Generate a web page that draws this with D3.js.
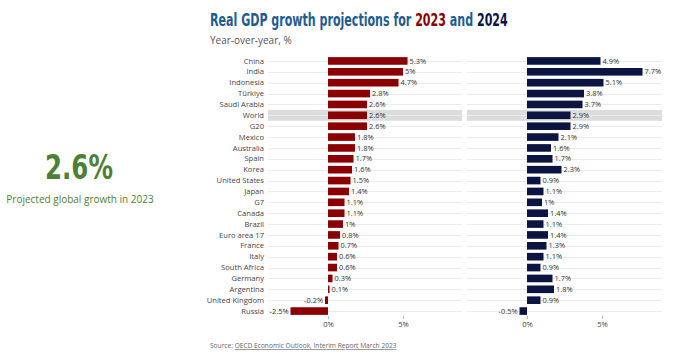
<!DOCTYPE html>
<html><head><meta charset="utf-8">
<script src="https://cdn.jsdelivr.net/npm/d3@7"></script>
<style>
body{margin:0;background:#fff;}
svg{display:block;font-family:"Open Sans",sans-serif;}
</style></head>
<body><svg id="c" width="700" height="356"></svg>
<script>
const categories = ["China","India","Indonesia","Türkiye","Saudi Arabia","World","G20","Mexico","Australia","Spain","Korea","United States","Japan","G7","Canada","Brazil","Euro area 17","France","Italy","South Africa","Germany","Argentina","United Kingdom","Russia"];
const growth2023 = [5.3,5,4.7,2.8,2.6,2.6,2.6,1.8,1.8,1.7,1.6,1.5,1.4,1.1,1.1,1,0.8,0.7,0.6,0.6,0.3,0.1,-0.2,-2.5];
const growth2024 = [4.9,7.7,5.1,3.8,3.7,2.9,2.9,2.1,1.6,1.7,2.3,0.9,1.1,1,1.4,1.1,1.4,1.3,1.1,0.9,1.7,1.8,0.9,-0.5];
const tickValues = [0,5];
const highlight = "World";

const svg = d3.select("#c");
const y = d3.scaleBand().domain(categories).range([55.5,316.5]).paddingInner(0.3).paddingOuter(0.15);
const step = y.step();

const panels = [
  {data:growth2023, color:"#8b0000", x0:268, x1:462, xs:d3.scaleLinear().domain([-4,8.93]).range([268,462])},
  {data:growth2024, color:"#0c1442", x0:467, x1:662, xs:d3.scaleLinear().domain([-4,9]).range([467,662])}
];

// category labels
svg.append("g").selectAll("text").data(categories).join("text")
  .attr("x",264).attr("y",d=>y(d)+y.bandwidth()/2).attr("dy","0.35em")
  .attr("text-anchor","end").attr("font-size",7.6).attr("fill","#444").text(d=>d);

panels.forEach(p=>{
  const g = svg.append("g");
  g.append("rect").attr("x",p.x0).attr("width",p.x1-p.x0)
    .attr("y",y(highlight)+y.bandwidth()/2-step/2).attr("height",step).attr("fill","#dcdcdc");
  g.selectAll("line.grid").data(categories).join("line").attr("class","grid")
    .attr("x1",p.x0).attr("x2",p.x1)
    .attr("y1",d=>Math.round(y(d)+y.bandwidth()/2)+0.5).attr("y2",d=>Math.round(y(d)+y.bandwidth()/2)+0.5)
    .attr("stroke","#ececec").attr("stroke-width",1);
  const rows = categories.map((c,i)=>({c,v:p.data[i]}));
  g.selectAll("rect.bar").data(rows).join("rect").attr("class","bar")
    .attr("x",d=>p.xs(Math.min(0,d.v))).attr("width",d=>Math.abs(p.xs(d.v)-p.xs(0)))
    .attr("y",d=>y(d.c)).attr("height",y.bandwidth()).attr("fill",p.color);
  g.selectAll("text.val").data(rows).join("text").attr("class","val")
    .attr("x",d=>d.v>=0?p.xs(d.v)+2:p.xs(d.v)-2)
    .attr("y",d=>y(d.c)+y.bandwidth()/2).attr("dy","0.35em")
    .attr("text-anchor",d=>d.v>=0?"start":"end")
    .attr("font-size",7.4).attr("fill","#333").text(d=>d.v+"%");
  const ax = g.append("g").attr("transform","translate(0,316)")
    .call(d3.axisBottom(p.xs).tickValues(tickValues).tickFormat(d=>d+"%").tickSize(3).tickPadding(3));
  ax.select(".domain").remove();
  ax.selectAll(".tick line").attr("stroke","#bbb");
  ax.selectAll(".tick text").attr("font-size",7.6).attr("fill","#444").attr("font-family","Open Sans, sans-serif");
});

function fitX(sel, x, targetW){
  const w = sel.node().getComputedTextLength();
  const k = targetW / w;
  sel.attr("x",0).attr("transform",`translate(${x},0) scale(${k},1)`);
}

// title
const t = svg.append("text").attr("y",26)
  .attr("font-family","'DejaVu Sans Condensed','Liberation Sans Narrow',sans-serif")
  .attr("font-weight","bold").attr("font-size",18).attr("fill","#1f5c92");
t.append("tspan").text("Real GDP growth projections for ");
t.append("tspan").attr("fill","#8b0000").text("2023");
t.append("tspan").text(" and ");
t.append("tspan").attr("fill","#0c1442").text("2024");
fitX(t, 210, 298);

svg.append("text").attr("x",210).attr("y",44).attr("font-size",10).attr("fill","#555").text("Year-over-year, %");

// big number
const big = svg.append("text").attr("y",179)
  .attr("font-family","'DejaVu Sans Condensed','Liberation Sans Narrow',sans-serif")
  .attr("font-weight","bold").attr("font-size",34).attr("fill","#4f7f33").text("2.6%");
fitX(big, 45, 68);
svg.append("text").attr("x",80).attr("y",203).attr("text-anchor","middle")
  .attr("font-size",10).attr("fill","#4f7f33").text("Projected global growth in 2023");

// source
const s = svg.append("text").attr("x",210).attr("y",348).attr("font-size",6.6).attr("fill","#666");
s.append("tspan").text("Source: ");
s.append("tspan").attr("text-decoration","underline").text("OECD Economic Outlook, Interim Report March 2023");
</script></body></html>
